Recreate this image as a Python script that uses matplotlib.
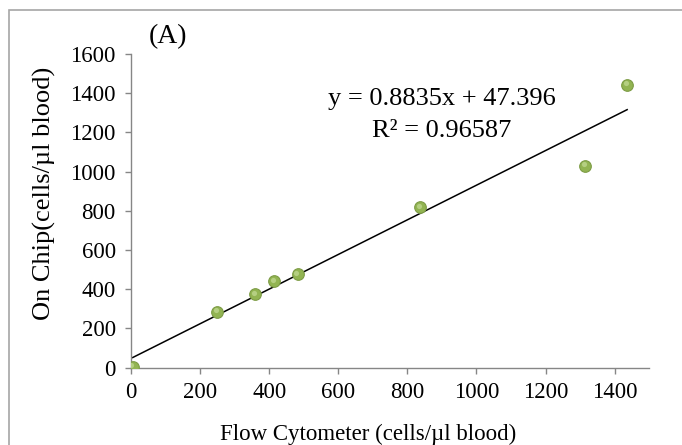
import numpy as np
import matplotlib.pyplot as plt
from matplotlib.patches import Rectangle

# values
flow = [5, 249, 360, 414, 483, 837, 1315, 1436]
chip = [5, 285, 375, 441, 477, 818, 1030, 1444]

slope = 0.8835
intercept = 47.396
r_squared = 0.96587

x_ticks = [0, 200, 400, 600, 800, 1000, 1200, 1400]
y_ticks = [0, 200, 400, 600, 800, 1000, 1200, 1400, 1600]

plt.rcParams['font.family'] = ['Liberation Serif', 'DejaVu Serif']

fig = plt.figure(figsize=(6.82, 4.45), dpi=100)
ax = fig.add_axes([0.192, 0.1737, 0.760, 0.705])

# outer chart border (cropped at right and bottom like the original)
fig.patches.append(Rectangle((0.013, -0.1), 1.2, 1.0775, transform=fig.transFigure,
                             fill=False, edgecolor='#a6a6a6', linewidth=1.2))

# trendline over the data range
xs = np.array([min(flow), max(flow)])
ax.plot(xs, slope * xs + intercept, color='black', linewidth=1.1, zorder=2)

ax.scatter(flow, chip, s=70, color='#92b452', edgecolors='#7d9c45', linewidths=0.8, zorder=3)
ax.scatter(np.array(flow) - 4, np.array(chip) + 8, s=14, color='#b5cf82', linewidths=0, zorder=4)

ax.set_xlim(0, 1500)
ax.set_ylim(0, 1600)
ax.set_xticks(x_ticks)
ax.set_yticks(y_ticks)

for side in ['top', 'right']:
    ax.spines[side].set_visible(False)
for side in ['left', 'bottom']:
    ax.spines[side].set_color('#868686')
    ax.spines[side].set_linewidth(1.0)
ax.tick_params(direction='out', length=4, width=1.0, color='#868686', labelsize=16.5)
ax.tick_params(axis='x', pad=6.5)
ax.tick_params(axis='y', pad=7)

ax.set_xlabel('Flow Cytometer (cells/\u00b5l blood)', fontsize=16.5, va='baseline')
ax.xaxis.set_label_coords(0.4575, -0.2306)
ax.set_ylabel('On Chip(cells/\u00b5l blood)', fontsize=19, va='center')
ax.yaxis.set_label_coords(-0.166, 0.555)

ax.text(900, 1368, f'y = {slope}x + {intercept}', fontsize=19, ha='center', va='center')
ax.text(900, 1205, f'R\u00b2 = {r_squared}', fontsize=19, ha='center', va='center')

fig.text(0.246, 0.917, '(A)', fontsize=20, ha='center', va='center')

fig.savefig('out.png', dpi=100)
